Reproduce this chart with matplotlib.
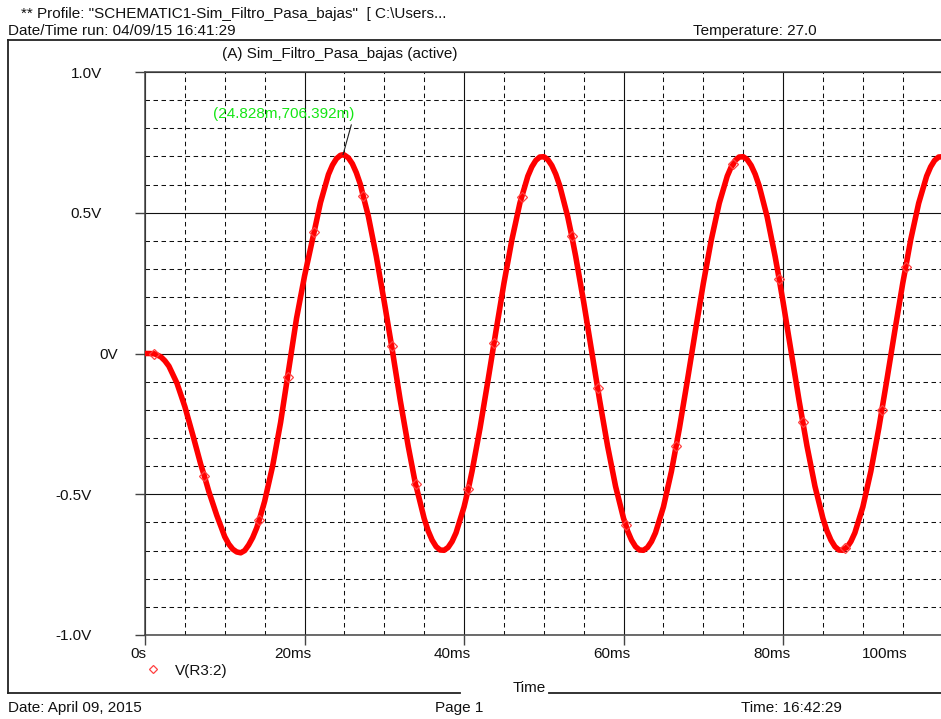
import numpy as np
import matplotlib
matplotlib.use("Agg")
import matplotlib.pyplot as plt
from matplotlib.lines import Line2D

# ---------------- data ----------------
time_ms = [0, 0.5, 1, 1.17, 1.5, 2, 2.5, 3, 4, 5, 6, 7, 7.44, 8, 9, 10, 10.5, 11, 11.5, 12, 12.5,
           13, 13.5, 14, 14.33, 15, 16, 17, 17.89,
           18, 19, 20, 21, 21.19, 22, 23, 23.5, 24, 24.5, 24.828, 25, 25.5, 26, 26.5, 27, 27.37,
           28, 29, 30, 30.93, 31,
           32, 33, 33.92, 34, 35, 35.5, 36, 36.5, 37, 37.5, 38, 38.5, 39, 40, 40.54, 41, 42, 43,
           43.76, 44, 45,
           46, 47, 47.23, 48, 48.5, 49, 49.5, 50, 50.5, 51, 51.5, 52, 53, 53.50, 54, 55, 56, 56.76,
           57, 58, 59, 60, 60.31, 60.5,
           61, 61.5, 62, 62.5, 63, 63.5, 64, 65, 66, 66.58, 67, 68, 69, 70, 71, 72, 73, 73.5,
           73.77, 74, 74.5, 75, 75.5, 76, 76.5, 77, 78,
           79, 79.50, 80, 81, 82, 82.47, 83, 84, 85, 85.5, 86, 86.5, 87, 87.5, 87.77, 88, 88.5,
           89, 90, 91, 92, 92.38,
           93, 94, 95, 95.38, 96, 97, 98, 98.5, 99, 99.5, 100]
v_r3 = [0.000, 0.000, -0.001, -0.001, -0.005, -0.012, -0.026, -0.045, -0.105, -0.189, -0.290,
        -0.395, -0.435, -0.490, -0.575, -0.651, -0.677, -0.695, -0.705, -0.708, -0.700,
        -0.680, -0.654, -0.620, -0.591, -0.525, -0.400, -0.245, -0.082,
        -0.060, 0.125, 0.275, 0.404, 0.430, 0.536, 0.636, 0.669, 0.692, 0.704, 0.706, 0.705,
        0.695, 0.674, 0.642, 0.601, 0.558,
        0.488, 0.345, 0.183, 0.025, 0.013,
        -0.166, -0.329, -0.465, -0.472, -0.586, -0.630, -0.663, -0.686, -0.698, -0.699, -0.689,
        -0.668, -0.637, -0.545, -0.481, -0.419, -0.266, -0.096,
        0.037, 0.079, 0.249,
        0.404, 0.534, 0.556, 0.630, 0.663, 0.686, 0.698, 0.699, 0.689, 0.668, 0.637, 0.596,
        0.486, 0.418, 0.345, 0.183, 0.009, -0.124,
        -0.166, -0.329, -0.472, -0.586, -0.611, -0.630,
        -0.663, -0.686, -0.698, -0.699, -0.689, -0.668, -0.637, -0.545, -0.419, -0.330, -0.266,
        -0.096, 0.079, 0.249, 0.404, 0.534, 0.630, 0.663,
        0.673, 0.686, 0.698, 0.699, 0.689, 0.668, 0.637, 0.596, 0.486,
        0.345, 0.266, 0.183, 0.009, -0.166, -0.243, -0.329, -0.472, -0.586, -0.630, -0.663,
        -0.686, -0.698, -0.699, -0.692, -0.689, -0.668,
        -0.637, -0.545, -0.419, -0.266, -0.201,
        -0.096, 0.079, 0.249, 0.307, 0.404, 0.534, 0.630, 0.663, 0.686, 0.698, 0.699]
marker_times = [1.17, 7.44, 14.33, 17.89, 21.19, 27.37, 30.93, 33.92, 40.54, 43.76, 47.23,
                53.50, 56.76, 60.31, 66.58, 73.77, 79.50, 82.47, 87.77, 92.38, 95.38]
series_name = "V(R3:2)"

x_ticks = [0, 20, 40, 60, 80, 100]
x_tick_labels = ["0s", "20ms", "40ms", "60ms", "80ms", "100ms"]
y_ticks = [1.0, 0.5, 0.0, -0.5, -1.0]
y_tick_labels = ["1.0V", "0.5V", "0V", "-0.5V", "-1.0V"]
cursor_point = (24.828, 0.706392)
cursor_label = "(24.828m,706.392m)"

header1 = '** Profile: "SCHEMATIC1-Sim_Filtro_Pasa_bajas"  [ C:\\Users...'
header2 = "Date/Time run: 04/09/15 16:41:29"
header_temp = "Temperature: 27.0"
plot_title = "(A) Sim_Filtro_Pasa_bajas (active)"
footer_date = "Date: April 09, 2015"
footer_page = "Page 1"
footer_time = "Time: 16:42:29"
x_title = "Time"

# ---------------- figure ----------------
W, H = 941, 719
plt.rcParams['font.family'] = ['Liberation Sans', 'DejaVu Sans']
plt.rcParams['font.size'] = 11
fig = plt.figure(figsize=(W / 100, H / 100), dpi=100)
fig.patch.set_facecolor('white')

def fx(px):
    return px / W

def fy(py):
    return 1 - py / H

ax = fig.add_axes([fx(145), fy(635), (W - 145) / W, 563 / H])
ax.set_xlim(0, 99.8)
ax.set_ylim(-1.0, 1.0)

# grid
ax.set_xticks(x_ticks[:-1])
ax.set_yticks(y_ticks)
ax.set_xticks(np.arange(5, 100, 5), minor=True)
ax.set_yticks(np.arange(-0.9, 0.95, 0.1), minor=True)
ax.grid(which='major', color='#111111', lw=0.8, ls='-')
ax.grid(which='minor', color='#111111', lw=0.75, ls=(0, (4.3, 3.4)))
ax.set_axisbelow(True)
ax.tick_params(which='minor', length=0)
ax.tick_params(which='major', direction='out', length=7.5, width=1.0, color='#444444',
               labelleft=False, labelbottom=False)
ax.spines['right'].set_visible(False)
for s in ['left', 'top', 'bottom']:
    ax.spines[s].set_color('#444444')
    ax.spines[s].set_linewidth(1.1)

# series
t = np.array(time_ms)
v = np.array(v_r3)
mk_idx = [int(np.argmin(np.abs(t - m))) for m in marker_times]
ax.plot(t, v, color='#ff0000', lw=4.0, solid_capstyle='round', solid_joinstyle='round',
        zorder=3)
ax.plot(t, v, ls='none', marker='D', ms=5.5, mfc='none', mec='#ff4040', mew=0.9,
        markevery=mk_idx, zorder=4)

# tick labels
ytr = ax.get_yaxis_transform()
y_dx = [-43, -43, -27, -53, -53]
for val, lab, dx in zip(y_ticks, y_tick_labels, y_dx):
    ax.annotate(lab, xy=(0, val), xycoords=ytr, xytext=(dx, -5.5), textcoords='offset pixels',
                ha='right', va='baseline', color='#111111', annotation_clip=False)
xtr = ax.get_xaxis_transform()
x_dx = [1, 7, 7, 7, 7, -35]
for val, lab, dx in zip(x_ticks, x_tick_labels, x_dx):
    ax.annotate(lab, xy=(val, 0), xycoords=xtr, xytext=(dx, -23.5), textcoords='offset pixels',
                ha='right', va='baseline', color='#111111', annotation_clip=False)

# cursor annotation
ax.annotate(cursor_label, xy=cursor_point, xycoords='data', xytext=(-130, 37),
            textcoords='offset pixels', ha='left', va='baseline', color='#14e614',
            arrowprops=dict(arrowstyle='-', color='#222222', lw=0.8, shrinkA=1, shrinkB=0,
                            relpos=(1.0, 0.5)), zorder=6)

# frame lines
frame_kw = dict(color='#222222', lw=1.3, transform=fig.transFigure)
fig.add_artist(Line2D([fx(8), fx(941)], [fy(40), fy(40)], **frame_kw))
fig.add_artist(Line2D([fx(8), fx(8)], [fy(40), fy(693)], **frame_kw))
fig.add_artist(Line2D([fx(8), fx(460)], [fy(693), fy(693)], **frame_kw))
fig.add_artist(Line2D([fx(549), fx(941)], [fy(693), fy(693)], **frame_kw))

# texts
tc = '#111111'
fig.text(fx(21), fy(18), header1, ha='left', va='baseline', color=tc)
fig.text(fx(8), fy(35), header2, ha='left', va='baseline', color=tc)
fig.text(fx(693), fy(35), header_temp, ha='left', va='baseline', color=tc)
fig.text(fx(222), fy(58), plot_title, ha='left', va='baseline', color=tc)
fig.text(fx(513), fy(692), x_title, ha='left', va='baseline', color=tc)
fig.text(fx(8), fy(712), footer_date, ha='left', va='baseline', color=tc)
fig.text(fx(435), fy(712), footer_page, ha='left', va='baseline', color=tc)
fig.text(fx(741), fy(712), footer_time, ha='left', va='baseline', color=tc)

# legend
fig.add_artist(Line2D([fx(153)], [fy(669)], ls='none', marker='D', ms=4.5, mfc='none',
                      mec='#ff4040', mew=0.9, transform=fig.transFigure))
fig.text(fx(175), fy(674.5), series_name, ha='left', va='baseline', color=tc)

fig.savefig('out.png', dpi=100, facecolor='white')
